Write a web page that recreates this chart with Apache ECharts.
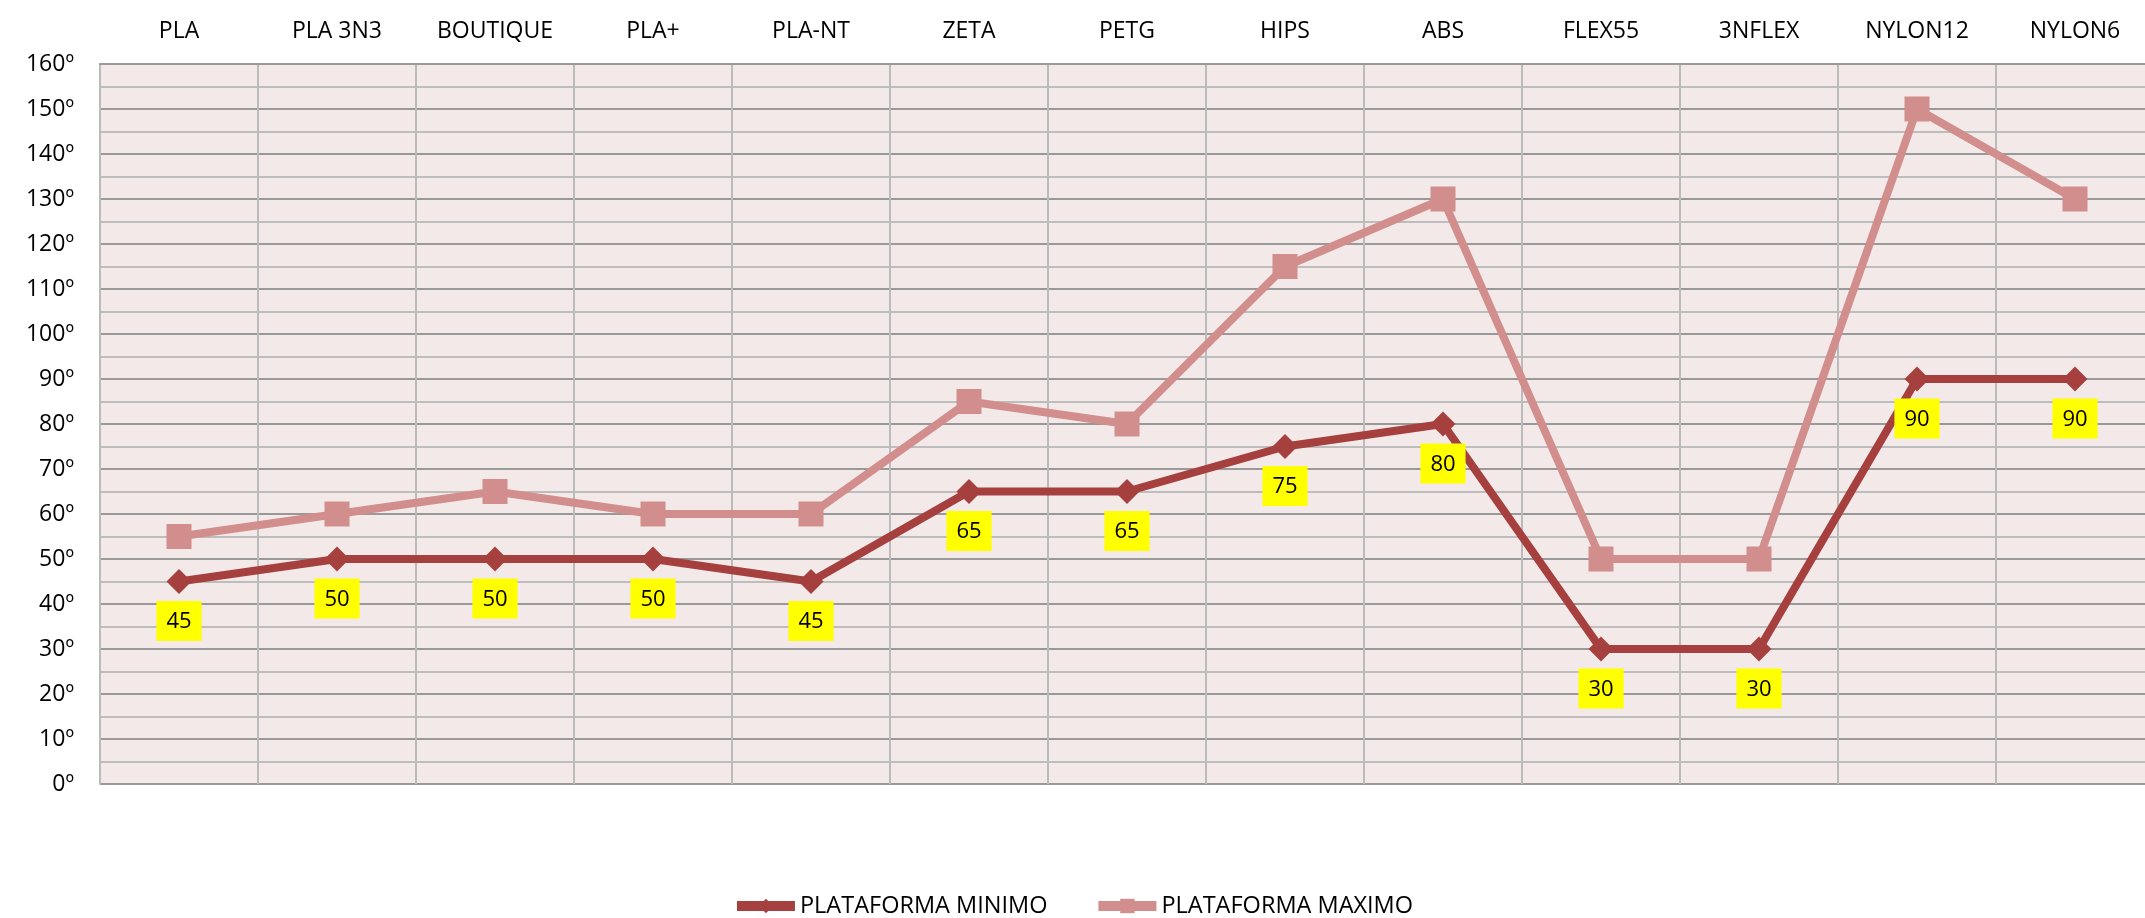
<!DOCTYPE html>
<html>
<head>
<meta charset="utf-8">
<script src="https://cdn.jsdelivr.net/npm/echarts@6/dist/echarts.min.js"></script>
<style>
  html, body { margin: 0; padding: 0; background: #fff; }
  #chart { width: 2145px; height: 918px; }
</style>
</head>
<body>
<div id="chart"></div>
<script>
var categories = ['PLA', 'PLA 3N3', 'BOUTIQUE', 'PLA+', 'PLA-NT', 'ZETA', 'PETG', 'HIPS', 'ABS', 'FLEX55', '3NFLEX', 'NYLON12', 'NYLON6'];
var plataformaMinimo = [45, 50, 50, 50, 45, 65, 65, 75, 80, 30, 30, 90, 90];
var plataformaMaximo = [55, 60, 65, 60, 60, 85, 80, 115, 130, 50, 50, 150, 130];
var yTicks = { min: 0, max: 160, interval: 10 };

var font = '"Open Sans", "Liberation Sans", sans-serif';
var chart = echarts.init(document.getElementById('chart'));

var option = {
    animation: false,
    textStyle: { fontFamily: font },
    legend: {
        top: 889,
        left: 'center',
        itemWidth: 58,
        itemHeight: 18,
        itemGap: 46,
        lineStyle: { width: 10 },
        textStyle: { fontSize: 23.5, color: '#000', fontFamily: font },
        data: ['PLATAFORMA MINIMO', 'PLATAFORMA MAXIMO']
    },
    grid: {
        left: 100,
        top: 64,
        width: 2054,
        height: 720,
        outerBoundsMode: 'none',
        show: true,
        backgroundColor: '#F2E9E8',
        borderWidth: 0
    },
    xAxis: {
        type: 'category',
        position: 'top',
        data: categories,
        boundaryGap: true,
        axisLine: { show: true, onZero: false, lineStyle: { color: '#999', width: 2 } },
        axisTick: { show: false },
        axisLabel: { fontSize: 23, color: '#000', margin: 21, fontFamily: font },
        splitLine: { show: true, lineStyle: { color: '#BBB', width: 2 } }
    },
    yAxis: {
        type: 'value',
        min: yTicks.min,
        max: yTicks.max,
        interval: yTicks.interval,
        axisLine: { show: true, lineStyle: { color: '#BBB', width: 2 } },
        axisTick: { show: false },
        axisLabel: { fontSize: 23, color: '#000', margin: 26, formatter: '{value}º', fontFamily: font },
        splitLine: { show: true, lineStyle: { color: '#999', width: 2 } },
        minorTick: { show: false, splitNumber: 2 },
        minorSplitLine: { show: true, lineStyle: { color: '#BDBDBD', width: 2 } }
    },
    series: [
        {
            name: 'PLATAFORMA MINIMO',
            type: 'line',
            data: plataformaMinimo,
            z: 3,
            symbol: 'diamond',
            symbolSize: 25,
            itemStyle: { color: '#A5403F' },
            lineStyle: { color: '#A5403F', width: 8 },
            label: {
                show: true,
                position: 'bottom',
                distance: 7,
                fontSize: 22,
                color: '#000',
                backgroundColor: '#FFFF00',
                padding: [10, 10, 8, 10],
                fontFamily: font
            }
        },
        {
            name: 'PLATAFORMA MAXIMO',
            type: 'line',
            data: plataformaMaximo,
            z: 2,
            symbol: 'rect',
            symbolSize: 25,
            itemStyle: { color: '#D18E8D' },
            lineStyle: { color: '#D18E8D', width: 8 }
        }
    ]
};
chart.setOption(option);
</script>
</body>
</html>
